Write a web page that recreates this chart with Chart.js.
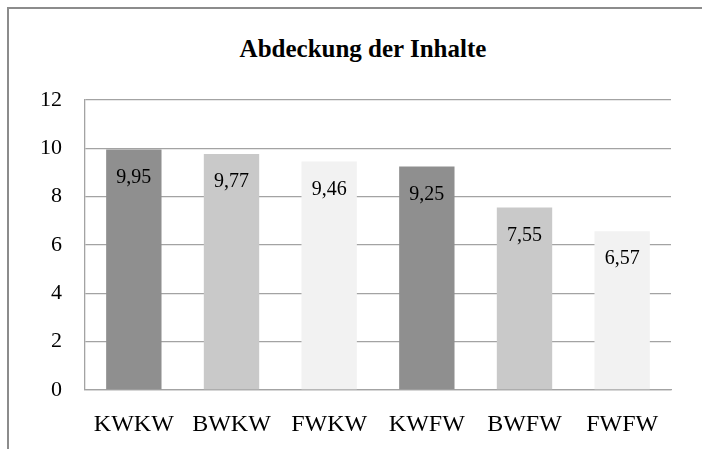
<!DOCTYPE html>
<html>
<head>
<meta charset="utf-8">
<script src="https://cdn.jsdelivr.net/npm/chart.js@4/dist/chart.umd.min.js"></script>
<style>
  html, body { margin: 0; padding: 0; background: #fff; }
  #wrap { position: relative; width: 702px; height: 449px; overflow: hidden; }
  #frame {
    position: absolute; left: 7px; top: 7px; width: 900px; height: 700px;
    border-left: 2px solid #8c8c8c; border-top: 2px solid #8c8c8c;
  }
  #title {
    position: absolute; left: 12px; top: 35px; width: 702px;
    text-align: center; line-height: 30px; color: #000;
    font: bold 25px 'Liberation Serif', 'Times New Roman', serif;
  }
  #chart { position: absolute; left: 0; top: 0; }
</style>
</head>
<body>
<div id="wrap">
  <div id="frame"></div>
  <div id="title">Abdeckung der Inhalte</div>
  <canvas id="chart" width="702" height="449"></canvas>
</div>
<script>
// Chart data
const categories = ['KWKW', 'BWKW', 'FWKW', 'KWFW', 'BWFW', 'FWFW'];
const values = [9.95, 9.77, 9.46, 9.25, 7.55, 6.57];
const barColors = ['#8f8f8f', '#c9c9c9', '#f2f2f2', '#8f8f8f', '#c9c9c9', '#f2f2f2'];
const yTicks = [0, 2, 4, 6, 8, 10, 12];

const gridColor = '#a3a3a3';
const serif = "'Liberation Serif', 'Times New Roman', serif";

// Values written inside the bars, below the top edge
const valueLabels = {
  id: 'valueLabels',
  afterDatasetsDraw(chart) {
    const ctx = chart.ctx;
    const meta = chart.getDatasetMeta(0);
    ctx.save();
    ctx.font = '20px ' + serif;
    ctx.fillStyle = '#000';
    ctx.textAlign = 'center';
    ctx.textBaseline = 'middle';
    meta.data.forEach((bar, i) => {
      const text = values[i].toFixed(2).replace('.', ',');
      ctx.fillText(text, bar.x, bar.y + 28);
    });
    ctx.restore();
  },
};

const ctx = document.getElementById('chart').getContext('2d');
new Chart(ctx, {
  type: 'bar',
  data: {
    labels: categories,
    datasets: [{
      data: values,
      backgroundColor: barColors,
      borderWidth: 0,
      barPercentage: 0.567,
      categoryPercentage: 1,
    }],
  },
  options: {
    responsive: false,
    animation: false,
    layout: {
      padding: { left: 30, right: 31, top: 100, bottom: 0 },
    },
    plugins: {
      legend: { display: false },
      tooltip: { enabled: false },
    },
    scales: {
      x: {
        grid: { display: false, drawTicks: false },
        border: { display: true, color: gridColor, width: 1.3 },
        ticks: {
          color: '#000',
          font: { family: serif, size: 24 },
          padding: 20,
          maxRotation: 0,
        },
        afterFit(scale) { scale.height = 59; },
      },
      y: {
        min: 0,
        max: 12,
        afterBuildTicks(scale) { scale.ticks = yTicks.map(v => ({ value: v })); },
        grid: { color: gridColor, lineWidth: 1.3, drawTicks: false },
        border: { display: true, color: gridColor, width: 1.3 },
        ticks: {
          color: '#000',
          font: { family: serif, size: 22 },
          padding: 23,
        },
        afterFit(scale) { scale.width = 55; },
      },
    },
  },
  plugins: [valueLabels],
});
</script>
</body>
</html>
